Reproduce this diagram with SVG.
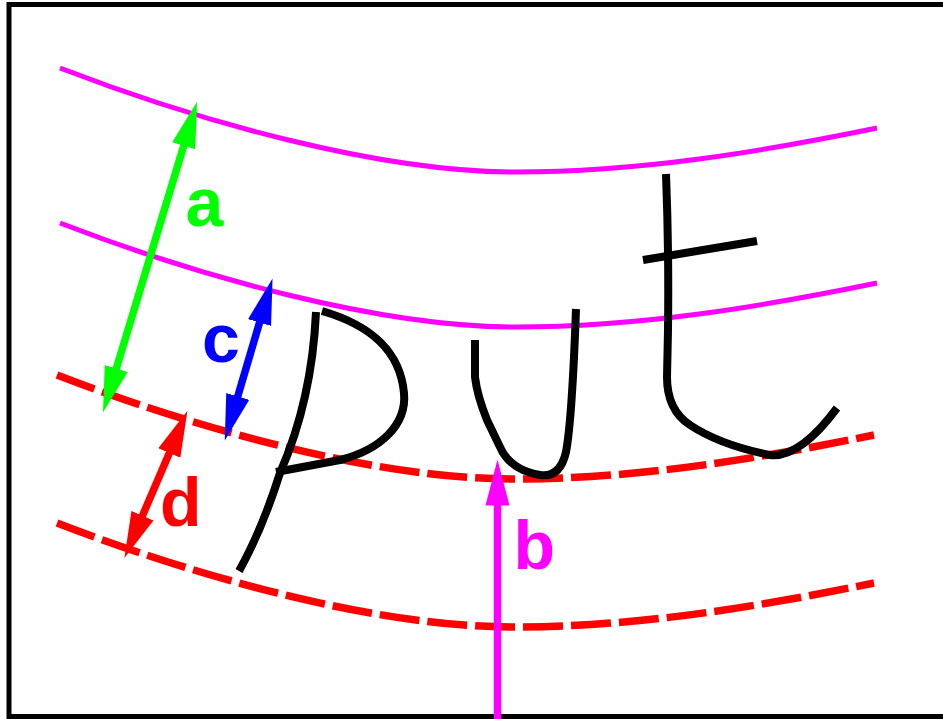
<svg xmlns="http://www.w3.org/2000/svg" width="943" height="719" viewBox="0 0 943 719">
  <style>
    .guide { fill: none; stroke: #ff00ff; stroke-width: 5; }
    .dash { fill: none; stroke: #ff0000; stroke-width: 7.5; stroke-dasharray: 40 8; }
    .hand { fill: none; stroke: #000000; stroke-width: 8; stroke-linecap: butt; stroke-linejoin: round; }
    .arr { fill: none; stroke-width: 7.5; }
    .lbl { font-family: "Liberation Sans", Arial, sans-serif; font-weight: bold; font-size: 68px; }
  </style>
  <defs>
    <path id="curve" d="M60,68 C200,122 380,172 515,172 C640,172 760,152 877,128"/>
    <marker id="hg" viewBox="-2 -13 48 26" markerWidth="48" markerHeight="26" refX="0" refY="0" orient="auto-start-reverse" markerUnits="userSpaceOnUse">
      <path d="M-2,-12 L44,0 L-2,12 Z" fill="#00ff00"/>
    </marker>
    <marker id="hb" viewBox="-2 -13 48 26" markerWidth="48" markerHeight="26" refX="0" refY="0" orient="auto-start-reverse" markerUnits="userSpaceOnUse">
      <path d="M-2,-12 L44,0 L-2,12 Z" fill="#0000ff"/>
    </marker>
    <marker id="hr" viewBox="-2 -13 48 26" markerWidth="48" markerHeight="26" refX="0" refY="0" orient="auto-start-reverse" markerUnits="userSpaceOnUse">
      <path d="M-2,-12 L44,0 L-2,12 Z" fill="#ff0000"/>
    </marker>
    <marker id="hm" viewBox="-2 -13 48 26" markerWidth="48" markerHeight="26" refX="0" refY="0" orient="auto-start-reverse" markerUnits="userSpaceOnUse">
      <path d="M-2,-12 L44,0 L-2,12 Z" fill="#ff00ff"/>
    </marker>
  </defs>

  <rect x="0" y="0" width="943" height="719" fill="#ffffff"/>
  <rect x="9" y="4.5" width="960" height="712" fill="none" stroke="#000000" stroke-width="5"/>

  <g id="guides">
    <use href="#curve" class="guide"/>
    <use href="#curve" class="guide" transform="translate(0,155)"/>
    <use href="#curve" class="dash" transform="translate(-3,307)"/>
    <use href="#curve" class="dash" transform="translate(-3,455)"/>
  </g>

  <g id="word-put">
    <path class="hand" d="M316,312 Q312,400 280,473 Q262,530 239,571"/>
    <path class="hand" d="M322,311 C370,325 400,350 404,393 C407,425 380,450 340,460 L276,472"/>
    <path class="hand" d="M475,340 L475,377 Q477,395 487,420 L500,447 Q510,470 540,475 Q560,478 566,452 Q572,420 576,309"/>
    <path class="hand" d="M666,174 Q669,250 668,330 L667,377 Q667,410 690,425 Q720,445 770,455 Q800,458 837,408"/>
    <path class="hand" d="M643,260 L757,241"/>
  </g>

  <g id="connectors">
    <line class="arr" stroke="#00ff00" x1="115.7" y1="370.5" x2="184.3" y2="143.9" marker-start="url(#hg)" marker-end="url(#hg)"/>
    <line class="arr" stroke="#0000ff" x1="237.2" y1="398.3" x2="260.1" y2="320.6" marker-start="url(#hb)" marker-end="url(#hb)"/>
    <line class="arr" stroke="#ff0000" x1="141.7" y1="517.5" x2="170.1" y2="451.2" marker-start="url(#hr)" marker-end="url(#hr)"/>
    <line class="arr" stroke="#ff00ff" x1="497.5" y1="725" x2="497.5" y2="503.5" marker-end="url(#hm)"/>
  </g>

  <g id="labels">
    <text class="lbl" x="185.5" y="226" fill="#00ff00">a</text>
    <text class="lbl" x="202" y="362" fill="#0000ff">c</text>
    <text class="lbl" x="160" y="526" fill="#ff0000">d</text>
    <text class="lbl" x="513.5" y="569" fill="#ff00ff">b</text>
  </g>
</svg>
